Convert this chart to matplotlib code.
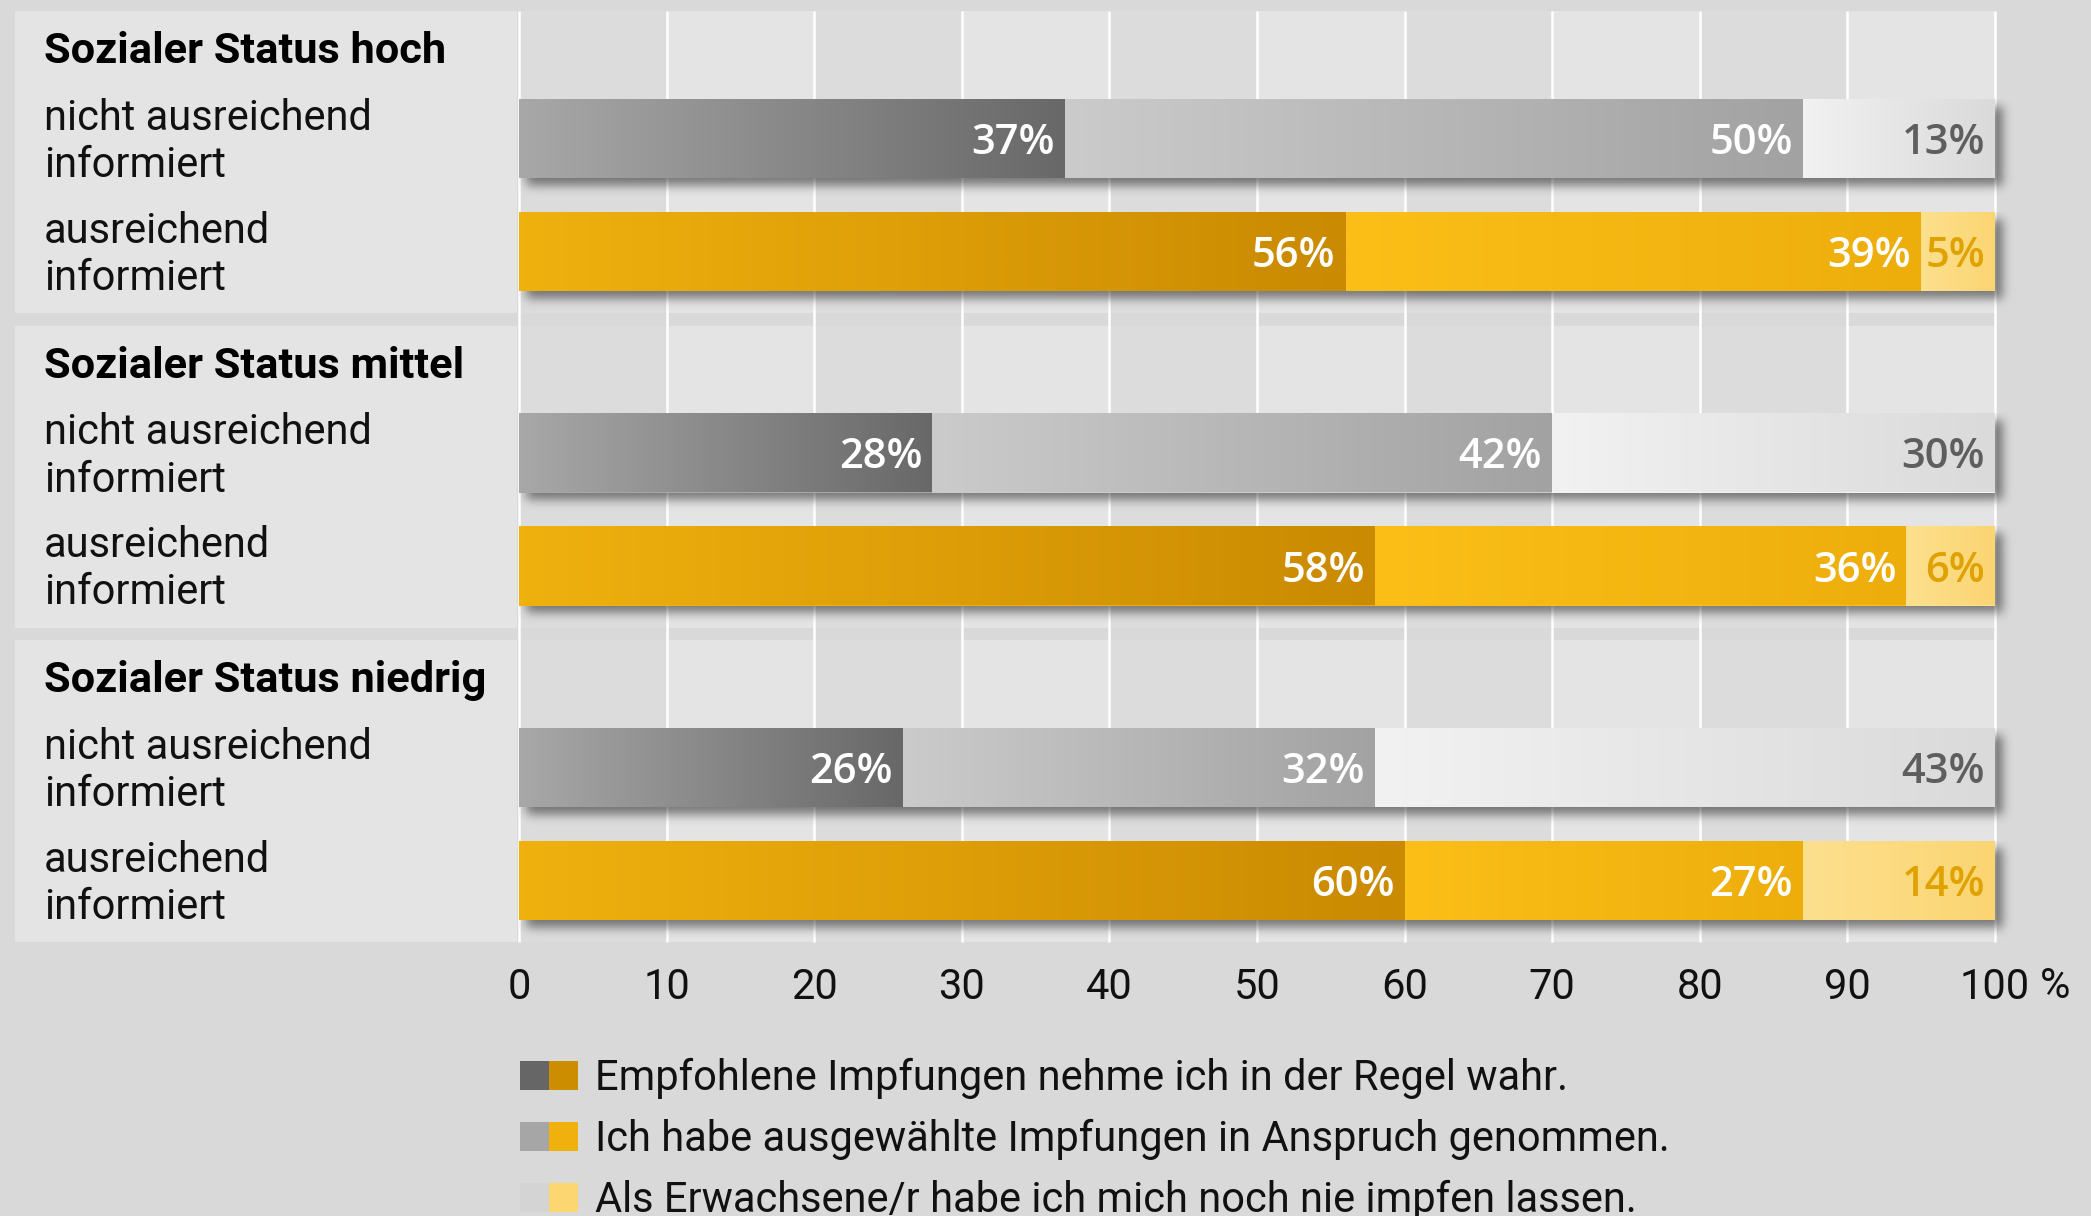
import math
import numpy as np
import matplotlib
matplotlib.use("Agg")
import matplotlib.pyplot as plt
from matplotlib.colors import LinearSegmentedColormap
from matplotlib.patches import Rectangle

# shares (%) per bar: hoch / mittel / niedrig, each "nicht ausreichend" then "ausreichend"
groups = ["Sozialer Status hoch", "Sozialer Status mittel", "Sozialer Status niedrig"]
rows = ["nicht ausreichend\ninformiert", "ausreichend\ninformiert"]
empfohlen = [37, 56, 28, 58, 26, 60]
ausgewaehlt = [50, 39, 42, 36, 32, 27]
nie_geimpft = [13, 5, 30, 6, 43, 14]
series_labels = [
    "Empfohlene Impfungen nehme ich in der Regel wahr.",
    "Ich habe ausgewählte Impfungen in Anspruch genommen.",
    "Als Erwachsene/r habe ich mich noch nie impfen lassen.",
]
ticks = list(range(0, 101, 10))

# colours
BG = "#d9d9d9"
LABEL_BG = "#e4e4e4"
STRIPE = ["#dcdcdc", "#e4e4e4"]
TXT = "#111111"
GRAY_GRAD = [("#a8a8a8", "#686868"), ("#cbcbcb", "#a2a2a2"), ("#f2f2f2", "#dadada")]
GOLD_GRAD = [("#efb10e", "#ca8a02"), ("#fbbf18", "#edae0c"), ("#fde08e", "#fbd572")]
GRAY_TXT = ["white", "white", "#5e5e5e"]
GOLD_TXT = ["white", "white", "#e0a200"]
LEGEND_GRAY = ["#666666", "#a6a6a6", "#d4d4d4"]
LEGEND_GOLD = ["#cc8e00", "#f0b00e", "#fcd670"]

plt.rcParams["font.family"] = ["Roboto", "DejaVu Sans"]
FS = 30

# layout in pixels
W, H, DPI = 2091, 1216, 100
X0, X100 = 519, 1995
TOP, BOTTOM = 11, 942
PANEL_PITCH, PANEL_H = 314.5, 302
BAR_OFF = [88, 201]
BAR_H = 79
UNIT = (X100 - X0) / 100

fig = plt.figure(figsize=(W / DPI, H / DPI), dpi=DPI, facecolor=BG)
bg = fig.add_axes([0, 0, 1, 1], zorder=0)
bg.set_xlim(0, W)
bg.set_ylim(H, 0)
bg.axis("off")

ax = fig.add_axes([X0 / W, 1 - BOTTOM / H, (X100 - X0) / W, (BOTTOM - TOP) / H], zorder=1)
ax.patch.set_alpha(0)

# panels: label block on the left, alternating columns on the right
for g, name in enumerate(groups):
    top = g * PANEL_PITCH
    bg.add_patch(Rectangle((15, TOP + top), X0 - 17, PANEL_H, color=LABEL_BG, lw=0))
    for k in range(10):
        ax.add_patch(Rectangle((10 * k, top), 10, PANEL_H, color=STRIPE[k % 2], lw=0, zorder=0))
    bg.text(44, TOP + top + 52, name, fontsize=FS + 1.2, fontweight="bold", color="black",
            ha="left", va="baseline")

ax.vlines(ticks, 0, BOTTOM - TOP, colors="white", lw=1.8, zorder=1, clip_on=False)

bar_y = [g * PANEL_PITCH + BAR_OFF[r] + BAR_H / 2 for g in range(3) for r in range(2)]
for i, y in enumerate(bar_y):
    # baseline of the second line sits just above the bar bottom
    bg.text(44, TOP + y + 38.5, rows[i % 2], fontsize=FS, color=TXT, ha="left",
            va="baseline", linespacing=1.2)

# soft drop shadow under each bar
erf = np.vectorize(math.erf)
DX, DY, SIG = 7, 7, 5


def soft(t, a, b, s):
    return 0.5 * (erf((t - a) / (s * math.sqrt(2))) - erf((t - b) / (s * math.sqrt(2))))


series = [empfohlen, ausgewaehlt, nie_geimpft]
totals = np.sum(series, axis=0)
for i, y in enumerate(bar_y):
    x0 = X0
    x1 = X0 + min(totals[i], 100) * UNIT
    yt, yb = y - BAR_H / 2, y + BAR_H / 2
    xs = np.arange(x0, x1 + 35)
    ys = np.arange(yt, yb + 35)
    a = 0.55 * np.outer(soft(ys, yt + DY, yb + DY, SIG), soft(xs, x0 + DX, x1 + DX, SIG))
    img = np.zeros(a.shape + (4,))
    img[..., :3] = 0.12
    img[..., 3] = a
    ax.imshow(img, extent=((xs[0] - X0) / UNIT, (xs[-1] + 1 - X0) / UNIT, ys[-1] + 1, ys[0]),
              aspect="auto", zorder=2, clip_on=False, interpolation="bilinear")

# stacked bars, each segment filled with a left-to-right gradient
left = np.zeros(len(bar_y))
grad = np.linspace(0, 1, 256)[None, :]
for s, vals in enumerate(series):
    vals = np.array(vals, dtype=float)
    bars = ax.barh(bar_y, vals, left=left, height=BAR_H, lw=0, zorder=3)
    for i, patch in enumerate(bars):
        cols = GRAY_GRAD[s] if i % 2 == 0 else GOLD_GRAD[s]
        patch.set_facecolor(cols[0])
        cmap = LinearSegmentedColormap.from_list(f"seg{s}{i}", cols)
        right = min(left[i] + vals[i], 100)
        ax.imshow(grad, cmap=cmap, aspect="auto", zorder=3.5, interpolation="bilinear",
                  extent=(left[i], right, bar_y[i] + BAR_H / 2, bar_y[i] - BAR_H / 2))
        ax.text(right - 10 / UNIT, bar_y[i] + 15.5, f"{vals[i]:.0f}%", ha="right", va="baseline",
                color=GRAY_TXT[s] if i % 2 == 0 else GOLD_TXT[s], fontsize=FS,
                fontweight="semibold", family=["Open Sans", "DejaVu Sans"], zorder=5)
    left += vals

ax.set_xlim(0, 100)
ax.set_ylim(BOTTOM - TOP, 0)
ax.set_xticks(ticks, labels=[str(t) for t in ticks])
ax.set_yticks([])
ax.tick_params(axis="x", length=0, pad=18, labelsize=FS, labelcolor=TXT)
for sp in ax.spines.values():
    sp.set_visible(False)
ax.text(100 + 45 / UNIT, 998 - TOP, "%", fontsize=FS, color=TXT, ha="left", va="baseline")

# legend: grey and gold swatch side by side
for k, label in enumerate(series_labels):
    cy = 1075 + k * 61
    bg.add_patch(Rectangle((520, cy - 14.5), 29, 29, color=LEGEND_GRAY[k], lw=0))
    bg.add_patch(Rectangle((549, cy - 14.5), 29, 29, color=LEGEND_GOLD[k], lw=0))
    bg.text(595, cy + 15, label, fontsize=FS, color=TXT, ha="left", va="baseline")

fig.savefig("out.png", dpi=DPI, facecolor=BG)
